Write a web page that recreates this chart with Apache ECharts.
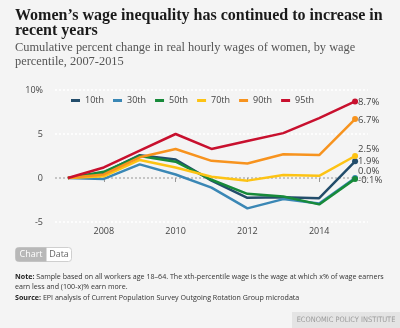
<!DOCTYPE html>
<html>
<head>
<meta charset="utf-8">
<style>
  html, body { margin: 0; padding: 0; background: #f4f4f4; }
  #chart { width: 400px; height: 328px; }
</style>
<script src="https://cdn.jsdelivr.net/npm/echarts@6/dist/echarts.min.js"></script>
</head>
<body>
<div id="chart"></div>
<script>
// Years on the x axis
const years = [2007, 2008, 2009, 2010, 2011, 2012, 2013, 2014, 2015];
// Cumulative % change in real hourly wages of women, by percentile
const p10 = [0, 0.6, 2.6, 2.1, -0.3, -2.25, -2.2, -2.3, 1.9];
const p30 = [0, -0.1, 1.55, 0.4, -1.1, -3.45, -2.4, -2.9, 0.0];
const p50 = [0, 0.7, 2.5, 1.85, -0.2, -1.8, -2.1, -3.0, -0.1];
const p70 = [0, 0.2, 2.05, 1.2, 0.15, -0.3, 0.35, 0.25, 2.5];
const p90 = [0, 0.4, 2.35, 3.3, 1.95, 1.65, 2.7, 2.6, 6.7];
const p95 = [0, 1.2, 3.1, 5.0, 3.3, 4.2, 5.1, 6.8, 8.7];
const seriesNames = ['10th', '30th', '50th', '70th', '90th', '95th'];
const xTickYears = [2008, 2010, 2012, 2014];

const colors = ['#234d6b', '#3a87b5', '#178a3a', '#fdc314', '#f7931e', '#c8102e'];
const allSeries = [p10, p30, p50, p70, p90, p95];
// vertical nudges for the end labels so they do not collide
const labelDy = [0, -7, 1, -7, 1, 1];

const sans = '"Open Sans", "Noto Sans", sans-serif';
const serif = '"Liberation Serif", "DejaVu Serif", serif';

const chart = echarts.init(document.getElementById('chart'), null, { renderer: 'canvas' });

const series = allSeries.map((vals, i) => ({
  name: seriesNames[i],
  type: 'line',
  data: vals.map((v, j) => [years[j], v]),
  color: colors[i],
  lineStyle: { width: 2.5, color: colors[i] },
  symbol: 'circle',
  symbolSize: (val, p) => (p.dataIndex === vals.length - 1 ? 6 : 0),
  showSymbol: true,
  itemStyle: { color: colors[i] },
  z: 2 + i,
  animation: false,
  endLabel: {
    show: true,
    distance: 3,
    offset: [0, labelDy[i]],
    formatter: p => p.value[1].toFixed(1) + '%',
    fontFamily: sans,
    fontSize: 9.5,
    color: '#444'
  }
}));

chart.setOption({
  backgroundColor: '#f4f4f4',
  animation: false,
  title: [
    {
      text: 'Women’s wage inequality has continued to increase in\nrecent years',
      left: 15, top: 8, padding: 0,
      textStyle: { fontFamily: serif, fontWeight: 'bold', fontSize: 16, lineHeight: 15, color: '#1a1a1a' }
    },
    {
      text: 'Cumulative percent change in real hourly wages of women, by wage\npercentile, 2007-2015',
      left: 15, top: 41, padding: 0,
      textStyle: { fontFamily: serif, fontWeight: 'normal', fontSize: 12.4, lineHeight: 14, color: '#555' }
    },
    {
      text: '{b|Note:} Sample based on all workers age 18–64. The xth-percentile wage is the wage at which x% of wage earners\nearn less and (100-x)% earn more.',
      left: 15, top: 272, padding: 0,
      textStyle: {
        fontFamily: sans, fontWeight: 'normal', fontSize: 7.1, lineHeight: 10, color: '#333',
        rich: { b: { fontFamily: sans, fontWeight: 'bold', fontSize: 7.1, color: '#222' } }
      }
    },
    {
      text: '{b|Source:} EPI analysis of Current Population Survey Outgoing Rotation Group microdata',
      left: 15, top: 293, padding: 0,
      textStyle: {
        fontFamily: sans, fontWeight: 'normal', fontSize: 7.1, lineHeight: 10, color: '#333',
        rich: { b: { fontFamily: sans, fontWeight: 'bold', fontSize: 7.1, color: '#222' } }
      }
    }
  ],
  legend: {
    data: seriesNames,
    left: 71, top: 96,
    padding: 0,
    itemWidth: 9, itemHeight: 3, itemGap: 9,
    icon: 'rect',
    backgroundColor: '#f4f4f4',
    textStyle: { fontFamily: sans, fontSize: 9, color: '#444', width: 24, padding: [0, 0, 0, 0] }
  },
  grid: { left: 55, right: 32, top: 90, bottom: 106, containLabel: false },
  xAxis: {
    type: 'value',
    min: 2006.64, max: 2015.36,
    axisLine: { show: false },
    splitLine: { show: false },
    axisTick: { show: true, length: 4, lineStyle: { color: '#999' }, customValues: xTickYears },
    axisLabel: { customValues: xTickYears, formatter: v => String(v), fontFamily: sans, fontSize: 9, color: '#444', margin: 5 }
  },
  yAxis: {
    type: 'value',
    min: -5, max: 10, interval: 5,
    axisLine: { show: false },
    axisTick: { show: false },
    axisLabel: { formatter: v => (v === 10 ? '10%' : String(v)), fontFamily: sans, fontSize: 9, color: '#444', margin: 12 },
    splitLine: { show: true, lineStyle: { color: ['#ffffff', '#b5b5b5', '#ffffff', '#ffffff'], type: [2, 2], width: 1.5 } }
  },
  series: series,
  graphic: [
    {
      type: 'group', left: 15, top: 247,
      children: [
        { type: 'rect', shape: { x: 0, y: 0, width: 56, height: 14, r: 3 }, style: { fill: '#ffffff', stroke: '#cfcfcf', lineWidth: 1 } },
        { type: 'rect', shape: { x: 0, y: 0, width: 31, height: 14, r: [3, 0, 0, 3] }, style: { fill: '#b8b8b8' } },
        { type: 'text', x: 15.5, y: 7, style: { text: 'Chart', fill: '#ffffff', font: '9px ' + sans, align: 'center', verticalAlign: 'middle' } },
        { type: 'text', x: 43.5, y: 7, style: { text: 'Data', fill: '#666', font: '9px ' + sans, align: 'center', verticalAlign: 'middle' } }
      ]
    },
    {
      type: 'group', left: 292, top: 312,
      children: [
        { type: 'rect', shape: { x: 0, y: 0, width: 108, height: 16 }, style: { fill: '#e4e4e4' } },
        { type: 'text', x: 54, y: 8, style: { text: 'ECONOMIC POLICY INSTITUTE', fill: '#9a9a9a', font: '7.4px "DejaVu Sans Condensed", "Liberation Sans Narrow", "Roboto", sans-serif', align: 'center', verticalAlign: 'middle' } }
      ]
    }
  ]
});
</script>
</body>
</html>
